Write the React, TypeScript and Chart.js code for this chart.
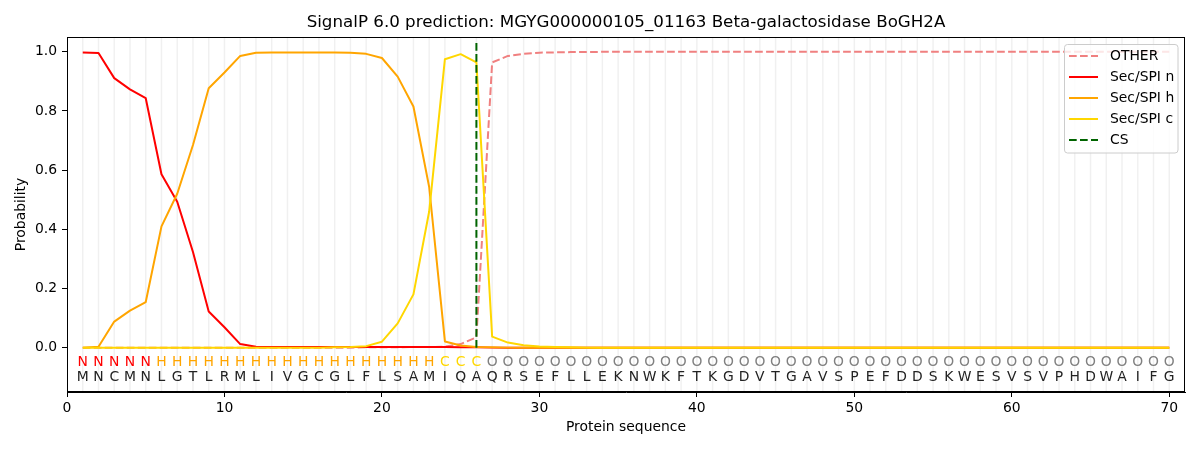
import React, { useEffect, useRef } from "react";
import { Chart, registerables } from "chart.js";

Chart.register(...registerables);

const TITLE = "SignalP 6.0 prediction: MGYG000000105_01163 Beta-galactosidase BoGH2A";
const SEQUENCE = "MNCMNLGTLRMLIVGCGLFLSAMIQAQRSEFLLEKNWKFTKGDVTGAVSPEFDDSKWESVSVPHDWAIFG".split("");
const REGIONS = "NNNNNHHHHHHHHHHHHHHHHHHCCCOOOOOOOOOOOOOOOOOOOOOOOOOOOOOOOOOOOOOOOOOOOO".split("");
const POSITIONS = SEQUENCE.map((_, i) => i + 1);

const OTHER = [
  0.0, 0.0, 0.0, 0.0, 0.0, 0.0, 0.0, 0.0, 0.0, 0.0,
  0.0, 0.0, 0.0, 0.0, 0.0, 0.0, 0.0, 0.0, 0.001, 0.001,
  0.001, 0.002, 0.002, 0.003, 0.012, 0.035, 0.964, 0.986, 0.993, 0.997,
  0.998, 0.999, 0.999, 1.0, 1.0, 1.0, 1.0, 1.0, 1.0, 1.0,
  1.0, 1.0, 1.0, 1.0, 1.0, 1.0, 1.0, 1.0, 1.0, 1.0,
  1.0, 1.0, 1.0, 1.0, 1.0, 1.0, 1.0, 1.0, 1.0, 1.0,
  1.0, 1.0, 1.0, 1.0, 1.0, 1.0, 1.0, 1.0, 1.0, 1.0,
];
const SEC_N = [
  0.998, 0.996, 0.911, 0.873, 0.843, 0.586, 0.493, 0.323, 0.122, 0.069,
  0.012, 0.003, 0.002, 0.002, 0.002, 0.002, 0.002, 0.002, 0.002, 0.002,
  0.002, 0.002, 0.002, 0.002, 0.001, 0.001, 0.0, 0.0, 0.0, 0.0,
  0.0, 0.0, 0.0, 0.0, 0.0, 0.0, 0.0, 0.0, 0.0, 0.0,
  0.0, 0.0, 0.0, 0.0, 0.0, 0.0, 0.0, 0.0, 0.0, 0.0,
  0.0, 0.0, 0.0, 0.0, 0.0, 0.0, 0.0, 0.0, 0.0, 0.0,
  0.0, 0.0, 0.0, 0.0, 0.0, 0.0, 0.0, 0.0, 0.0, 0.0,
];
const SEC_H = [
  0.0, 0.003, 0.088, 0.125, 0.154, 0.41, 0.52, 0.685, 0.877, 0.93,
  0.986, 0.997, 0.998, 0.998, 0.998, 0.998, 0.998, 0.997, 0.993, 0.979,
  0.916, 0.815, 0.543, 0.021, 0.007, 0.002, 0.001, 0.0, 0.0, 0.0,
  0.0, 0.0, 0.0, 0.0, 0.0, 0.0, 0.0, 0.0, 0.0, 0.0,
  0.0, 0.0, 0.0, 0.0, 0.0, 0.0, 0.0, 0.0, 0.0, 0.0,
  0.0, 0.0, 0.0, 0.0, 0.0, 0.0, 0.0, 0.0, 0.0, 0.0,
  0.0, 0.0, 0.0, 0.0, 0.0, 0.0, 0.0, 0.0, 0.0, 0.0,
];
const SEC_C = [
  0.0, 0.0, 0.0, 0.0, 0.0, 0.0, 0.0, 0.0, 0.0, 0.0,
  0.0, 0.0, 0.0, 0.0, 0.0, 0.0, 0.001, 0.002, 0.005, 0.02,
  0.082, 0.18, 0.46, 0.975, 0.992, 0.964, 0.037, 0.017, 0.008, 0.004,
  0.002, 0.001, 0.0, 0.0, 0.0, 0.0, 0.0, 0.0, 0.0, 0.0,
  0.0, 0.0, 0.0, 0.0, 0.0, 0.0, 0.0, 0.0, 0.0, 0.0,
  0.0, 0.0, 0.0, 0.0, 0.0, 0.0, 0.0, 0.0, 0.0, 0.0,
  0.0, 0.0, 0.0, 0.0, 0.0, 0.0, 0.0, 0.0, 0.0, 0.0,
];
const CS_POSITION = 26;
const CS_SPAN = [0, 1.035];
const X_TICKS = [0, 10, 20, 30, 40, 50, 60, 70];
const Y_TICKS = [0, 0.2, 0.4, 0.6, 0.8, 1.0];

const COLORS = {
  OTHER: "#f08080",
  N: "#ff0000",
  H: "#ffa500",
  C: "#ffd700",
  CS: "#006400",
  O: "#808080",
};
const REGION_COLOR: Record<string, string> = { N: COLORS.N, H: COLORS.H, C: COLORS.C, O: COLORS.O };

const FONT = "DejaVu Sans";
const FS = 13.9;
const DASH = [7.7, 3.3];

const LEGEND_ITEMS = [
  { label: "OTHER", color: COLORS.OTHER, dash: DASH },
  { label: "Sec/SPI n", color: COLORS.N, dash: [] as number[] },
  { label: "Sec/SPI h", color: COLORS.H, dash: [] as number[] },
  { label: "Sec/SPI c", color: COLORS.C, dash: [] as number[] },
  { label: "CS", color: COLORS.CS, dash: DASH },
];

const toPoints = (vals: number[]) => POSITIONS.map((p, i) => ({ x: p, y: vals[i] }));

const decorPlugin = {
  id: "decor",
  beforeDatasetsDraw(chart: any) {
    const { ctx, chartArea, scales } = chart;
    const xs = scales.x;
    ctx.save();
    ctx.strokeStyle = "rgba(0,0,0,0.06)";
    ctx.lineWidth = 1.5;
    for (const p of POSITIONS) {
      const px = xs.getPixelForValue(p);
      ctx.beginPath();
      ctx.moveTo(px, chartArea.top);
      ctx.lineTo(px, chartArea.bottom);
      ctx.stroke();
    }
    ctx.restore();
  },
  afterDatasetsDraw(chart: any) {
    const { ctx, chartArea, scales } = chart;
    const xs = scales.x;
    const ys = scales.y;
    ctx.save();
    // residue letters
    ctx.font = `${FS}px "${FONT}"`;
    ctx.textAlign = "center";
    ctx.textBaseline = "middle";
    const yReg = ys.getPixelForValue(-0.05);
    const yAA = ys.getPixelForValue(-0.1);
    POSITIONS.forEach((p, i) => {
      const px = xs.getPixelForValue(p);
      ctx.fillStyle = REGION_COLOR[REGIONS[i]];
      ctx.fillText(REGIONS[i], px, yReg);
      ctx.fillStyle = "#222222";
      ctx.fillText(SEQUENCE[i], px, yAA);
    });
    // frame
    ctx.strokeStyle = "#000000";
    ctx.lineWidth = 1;
    ctx.setLineDash([]);
    ctx.strokeRect(
      Math.round(chartArea.left) + 0.5,
      Math.round(chartArea.top) + 0.5,
      Math.round(chartArea.right - chartArea.left) - 1,
      Math.round(chartArea.bottom - chartArea.top) - 1
    );
    // title
    ctx.fillStyle = "#000000";
    ctx.font = `16.7px "${FONT}"`;
    ctx.textAlign = "center";
    ctx.textBaseline = "middle";
    ctx.fillText(TITLE, (chartArea.left + chartArea.right) / 2, 23);
    // legend
    const bx = 1064.5, by = 44.5, bw = 113.5, bh = 108.5, r = 3;
    ctx.beginPath();
    ctx.moveTo(bx + r, by);
    ctx.lineTo(bx + bw - r, by);
    ctx.arcTo(bx + bw, by, bx + bw, by + r, r);
    ctx.lineTo(bx + bw, by + bh - r);
    ctx.arcTo(bx + bw, by + bh, bx + bw - r, by + bh, r);
    ctx.lineTo(bx + r, by + bh);
    ctx.arcTo(bx, by + bh, bx, by + bh - r, r);
    ctx.lineTo(bx, by + r);
    ctx.arcTo(bx, by, bx + r, by, r);
    ctx.closePath();
    ctx.fillStyle = "rgba(255,255,255,0.8)";
    ctx.fill();
    ctx.strokeStyle = "#cccccc";
    ctx.lineWidth = 1;
    ctx.stroke();
    ctx.font = `${FS}px "${FONT}"`;
    ctx.textAlign = "left";
    LEGEND_ITEMS.forEach((it, i) => {
      const ly = 56 + i * 21;
      ctx.strokeStyle = it.color;
      ctx.lineWidth = 2;
      ctx.setLineDash(it.dash);
      ctx.beginPath();
      ctx.moveTo(1069, ly);
      ctx.lineTo(1098, ly);
      ctx.stroke();
      ctx.setLineDash([]);
      ctx.fillStyle = "#000000";
      ctx.fillText(it.label, 1110, ly);
    });
    ctx.restore();
  },
};

export default function App() {
  const ref = useRef<HTMLCanvasElement | null>(null);
  useEffect(() => {
    if (!ref.current) return;
    Chart.defaults.font.family = FONT;
    const chart = new Chart(ref.current, {
      type: "line",
      data: {
        datasets: [
          {
            label: "CS",
            data: CS_SPAN.map((y) => ({ x: CS_POSITION, y })),
            borderColor: COLORS.CS,
            borderWidth: 2,
            borderDash: DASH,
            pointRadius: 0,
            order: 0,
          },
          {
            label: "Sec/SPI c",
            data: toPoints(SEC_C),
            borderColor: COLORS.C,
            borderWidth: 2,
            pointRadius: 0,
            order: 1,
          },
          {
            label: "Sec/SPI h",
            data: toPoints(SEC_H),
            borderColor: COLORS.H,
            borderWidth: 2,
            pointRadius: 0,
            order: 2,
          },
          {
            label: "Sec/SPI n",
            data: toPoints(SEC_N),
            borderColor: COLORS.N,
            borderWidth: 2,
            pointRadius: 0,
            order: 3,
          },
          {
            label: "OTHER",
            data: toPoints(OTHER),
            borderColor: COLORS.OTHER,
            borderWidth: 2,
            borderDash: DASH,
            pointRadius: 0,
            order: 4,
          },
        ],
      },
      options: {
        responsive: false,
        animation: false,
        devicePixelRatio: 1,
        layout: { padding: { top: 37, right: 15, left: 0, bottom: 0 } },
        plugins: { legend: { display: false }, title: { display: false }, tooltip: { enabled: false } },
        elements: { line: { tension: 0, borderCapStyle: "butt", borderJoinStyle: "round" } },
        scales: {
          x: {
            type: "linear",
            min: 0,
            max: 71,
            afterBuildTicks: (s: any) => {
              s.ticks = X_TICKS.map((v) => ({ value: v }));
            },
            afterFit: (s: any) => {
              s.height = 58;
            },
            ticks: {
              autoSkip: false,
              maxRotation: 0,
              padding: 3,
              color: "#000000",
              font: { size: FS, family: FONT },
              callback: (v: any) => String(v),
            },
            grid: { drawOnChartArea: false, drawTicks: true, tickLength: 5, tickColor: "#000000", tickWidth: 1 },
            border: { display: true, color: "#000000", width: 1 },
            title: {
              display: true,
              text: "Protein sequence",
              color: "#000000",
              font: { size: FS, family: FONT },
              padding: { top: 0, bottom: 14.7 },
            },
          },
          y: {
            type: "linear",
            min: -0.15,
            max: 1.05,
            afterBuildTicks: (s: any) => {
              s.ticks = Y_TICKS.map((v) => ({ value: v }));
            },
            afterFit: (s: any) => {
              s.width = 67;
            },
            ticks: {
              padding: 5,
              color: "#000000",
              font: { size: FS, family: FONT },
              callback: (v: any) => Number(v).toFixed(1),
            },
            grid: { drawOnChartArea: false, drawTicks: true, tickLength: 5, tickColor: "#000000", tickWidth: 1 },
            border: { display: true, color: "#000000", width: 1 },
            title: {
              display: true,
              text: "Probability",
              color: "#000000",
              font: { size: FS, family: FONT },
              padding: { top: 12.7, bottom: 0 },
            },
          },
        },
      },
      plugins: [decorPlugin],
    } as any);
    return () => chart.destroy();
  }, []);
  return (
    <div style={{ position: "fixed", left: 0, top: 0, width: 1200, height: 450, background: "#ffffff" }}>
      <canvas ref={ref} width={1200} height={450} style={{ width: 1200, height: 450, display: "block" }} />
    </div>
  );
}
